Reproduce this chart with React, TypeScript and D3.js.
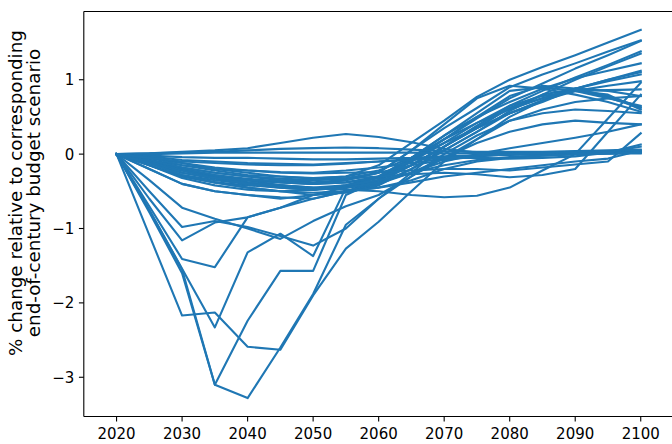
import React, { useEffect, useRef } from "react";
import * as d3 from "d3";

const years = [2020, 2025, 2030, 2035, 2040, 2045, 2050, 2055, 2060, 2065, 2070, 2075, 2080, 2085, 2090, 2095, 2100];
const xTicks = [2020, 2030, 2040, 2050, 2060, 2070, 2080, 2090, 2100];
const yTicks = [-3, -2, -1, 0, 1];
const yLabelLines = ["% change relative to corresponding", "end-of-century budget scenario"];

// deep early dips
const s01 = [0, -1.09, -2.17, -2.13, -2.59, -2.63, -1.9, -1.27, -0.91, -0.5, -0.1, 0.2, 0.45, 0.55, 0.6, 0.58, 0.55];
const s02 = [0, -0.78, -1.6, -3.1, -3.28, -2.6, -1.88, -0.95, -0.6, -0.25, 0.1, 0.35, 0.55, 0.72, 0.88, 1.0, 1.12];
const s03 = [0, -0.75, -1.55, -3.1, -2.24, -1.57, -1.57, -0.55, -0.35, -0.05, 0.25, 0.5, 0.7, 0.88, 1.02, 1.12, 1.22];
const s04 = [0, -0.75, -1.54, -2.33, -1.32, -1.07, -1.37, -0.45, -0.3, -0.05, 0.2, 0.42, 0.6, 0.75, 0.88, 0.98, 1.07];
// moderate early dips
const s05 = [0, -0.5, -0.98, -0.9, -0.98, -1.1, -1.23, -1.0, -0.6, -0.3, 0.0, 0.25, 0.45, 0.6, 0.7, 0.75, 0.78];
const s06 = [0, -0.6, -1.16, -0.92, -0.85, -0.72, -0.55, -0.45, -0.35, -0.15, 0.1, 0.35, 0.62, 0.8, 0.88, 0.78, 0.63];
const s07 = [0, -0.7, -1.41, -1.52, -0.85, -0.72, -0.6, -0.5, -0.4, -0.2, 0.05, 0.3, 0.55, 0.72, 0.85, 0.8, 0.6];
const s08 = [0, -0.35, -0.72, -0.87, -1.0, -1.14, -0.9, -0.7, -0.55, -0.3, -0.05, 0.15, 0.3, 0.4, 0.45, 0.42, 0.4];
// mid-band then rising
const s09 = [0, -0.2, -0.4, -0.5, -0.55, -0.58, -0.6, -0.5, -0.35, -0.1, 0.2, 0.5, 0.78, 0.92, 0.88, 0.76, 0.62];
const s10 = [0, -0.15, -0.3, -0.38, -0.42, -0.45, -0.48, -0.42, -0.3, -0.05, 0.25, 0.55, 0.85, 0.9, 0.85, 0.75, 0.65];
const s11 = [0, -0.1, -0.22, -0.3, -0.35, -0.38, -0.4, -0.35, -0.25, 0.05, 0.4, 0.75, 0.92, 0.88, 0.8, 0.7, 0.57];
const s12 = [0, -0.05, -0.12, -0.2, -0.25, -0.3, -0.33, -0.3, -0.15, 0.15, 0.45, 0.77, 1.0, 1.17, 1.33, 1.5, 1.67];
const s13 = [0, -0.08, -0.18, -0.25, -0.3, -0.35, -0.38, -0.35, -0.25, 0.05, 0.35, 0.62, 0.9, 1.07, 1.22, 1.38, 1.53];
const s14 = [0, -0.12, -0.25, -0.33, -0.38, -0.42, -0.45, -0.42, -0.32, -0.08, 0.2, 0.48, 0.75, 0.95, 1.15, 1.33, 1.52];
const s15 = [0, -0.1, -0.2, -0.28, -0.35, -0.42, -0.48, -0.45, -0.38, -0.15, 0.1, 0.38, 0.65, 0.85, 1.03, 1.2, 1.38];
const s16 = [0, -0.15, -0.3, -0.38, -0.45, -0.5, -0.55, -0.52, -0.42, -0.2, 0.05, 0.3, 0.58, 0.8, 1.0, 1.18, 1.35];
const s17 = [0, -0.08, -0.2, -0.3, -0.38, -0.42, -0.46, -0.45, -0.4, -0.25, -0.05, 0.2, 0.5, 0.72, 0.88, 1.0, 1.1];
const s18 = [0, -0.1, -0.22, -0.3, -0.35, -0.38, -0.4, -0.38, -0.32, -0.15, 0.1, 0.38, 0.62, 0.75, 0.85, 0.92, 0.98];
const s19 = [0, -0.12, -0.28, -0.35, -0.4, -0.42, -0.45, -0.48, -0.5, -0.55, -0.58, -0.56, -0.45, -0.22, 0.0, 0.48, 0.96];
const s20 = [0, -0.1, -0.2, -0.28, -0.33, -0.37, -0.4, -0.38, -0.3, -0.1, 0.15, 0.42, 0.65, 0.78, 0.85, 0.86, 0.87];
const s21 = [0, -0.08, -0.15, -0.22, -0.28, -0.3, -0.32, -0.3, -0.22, -0.05, 0.15, 0.35, 0.55, 0.7, 0.88, 0.85, 0.78];
const s22 = [0, -0.1, -0.22, -0.32, -0.4, -0.45, -0.48, -0.45, -0.38, -0.25, -0.1, 0.0, 0.08, 0.15, 0.22, 0.3, 0.4];
const s23 = [0, -0.05, -0.12, -0.18, -0.22, -0.25, -0.26, -0.25, -0.24, -0.22, -0.2, -0.2, -0.22, -0.18, -0.14, -0.1, 0.28];
const s24 = [0, -0.08, -0.18, -0.25, -0.3, -0.33, -0.35, -0.33, -0.3, -0.27, -0.25, -0.27, -0.31, -0.28, -0.2, 0.3, 0.8];
// near-zero runs
const s25 = [0, 0.01, 0.03, 0.05, 0.08, 0.15, 0.22, 0.27, 0.23, 0.16, 0.07, 0.02, 0, -0.01, 0, 0.01, 0.02];
const s26 = [0, 0.01, 0.02, 0.03, 0.05, 0.07, 0.08, 0.09, 0.08, 0.06, 0.04, 0.03, 0.03, 0.03, 0.04, 0.05, 0.06];
const s27 = [0, 0.0, 0.01, 0.02, 0.02, 0.02, 0.02, 0.02, 0.02, 0.02, 0.01, 0.01, 0.01, 0.01, 0.01, 0.01, 0.01];
const s28 = [0, -0.02, -0.04, -0.05, -0.05, -0.06, -0.07, -0.07, -0.06, -0.05, -0.03, -0.02, -0.01, 0, 0.01, 0.02, 0.03];
const s29 = [0, -0.03, -0.08, -0.1, -0.12, -0.13, -0.14, -0.12, -0.1, -0.07, -0.04, -0.02, 0, 0.01, 0.02, 0.03, 0.04];
const s30 = [0, -0.05, -0.15, -0.2, -0.22, -0.24, -0.25, -0.22, -0.18, -0.12, -0.06, -0.02, 0, 0.02, 0.03, 0.04, 0.05];
const s31 = [0, -0.1, -0.25, -0.32, -0.35, -0.36, -0.35, -0.32, -0.25, -0.15, -0.08, -0.03, 0, 0.01, 0.02, 0.03, 0.1];
const s32 = [0, -0.15, -0.32, -0.42, -0.48, -0.5, -0.48, -0.42, -0.35, -0.25, -0.15, -0.08, -0.04, -0.02, 0, 0.01, 0.02];
const s33 = [0, -0.2, -0.4, -0.5, -0.55, -0.6, -0.55, -0.5, -0.45, -0.35, -0.2, -0.1, -0.05, -0.02, 0, 0.01, 0.02];
const s34 = [0, -0.05, -0.1, -0.12, -0.14, -0.15, -0.15, -0.13, -0.1, -0.08, -0.05, -0.05, -0.06, -0.05, -0.03, 0.02, 0.13];
const s35 = [0, -0.12, -0.28, -0.38, -0.45, -0.5, -0.52, -0.5, -0.45, -0.38, -0.3, -0.25, -0.2, -0.15, -0.1, -0.06, 0.05];

const runs = [s01, s02, s03, s04, s05, s06, s07, s08, s09, s10, s11, s12, s13, s14, s15, s16, s17, s18, s19, s20, s21, s22, s23, s24, s25, s26, s27, s28, s29, s30, s31, s32, s33, s34, s35];

const W = 672;
const H = 444;
const FONT = "DejaVu Sans, sans-serif";

export default function App() {
  const ref = useRef<SVGSVGElement>(null);

  useEffect(() => {
    const svg = d3.select(ref.current);
    svg.selectAll("*").remove();

    const x = d3
      .scaleLinear()
      .domain([d3.min(years)! - 5, d3.max(years)! + 5])
      .range([83.8, 673.5]);

    const allVals = runs.flat();
    const lo = d3.min(allVals)!;
    const hi = d3.max(allVals)!;
    const pad = (hi - lo) * 0.05;
    const y = d3.scaleLinear().domain([lo - pad, hi + pad]).range([416.5, 11.5]);

    const line = d3
      .line<number>()
      .x((_, i) => x(years[i]))
      .y((v) => y(v));

    const g = svg.append("g");
    g.selectAll("path.run")
      .data(runs)
      .join("path")
      .attr("class", "run")
      .attr("d", (d) => line(d))
      .attr("fill", "none")
      .attr("stroke", "#1f77b4")
      .attr("stroke-width", 2.1)
      .attr("stroke-linejoin", "round")
      .attr("stroke-linecap", "square");

    // spines
    const [x0, x1] = x.range();
    const [yb, yt] = y.range();
    const sp = svg.append("g").attr("stroke", "#000").attr("stroke-width", 1.1).attr("fill", "none");
    sp.append("line").attr("x1", x0).attr("x2", x0).attr("y1", yt).attr("y2", yb);
    sp.append("line").attr("x1", x0).attr("x2", x1).attr("y1", yb).attr("y2", yb);
    sp.append("line").attr("x1", x0).attr("x2", x1).attr("y1", yt).attr("y2", yt);
    sp.append("line").attr("x1", x1).attr("x2", x1).attr("y1", yt).attr("y2", yb);

    // x ticks
    const xt = svg.append("g");
    xTicks.forEach((t) => {
      xt.append("line")
        .attr("x1", x(t))
        .attr("x2", x(t))
        .attr("y1", yb)
        .attr("y2", yb + 4.9)
        .attr("stroke", "#000")
        .attr("stroke-width", 1.1);
      xt.append("text")
        .attr("x", x(t))
        .attr("y", yb + 22)
        .attr("text-anchor", "middle")
        .attr("font-family", FONT)
        .attr("font-size", 15)
        .attr("fill", "#000")
        .text(String(t));
    });

    // y ticks
    const yt2 = svg.append("g");
    yTicks.forEach((t) => {
      yt2.append("line")
        .attr("x1", x0 - 4.9)
        .attr("x2", x0)
        .attr("y1", y(t))
        .attr("y2", y(t))
        .attr("stroke", "#000")
        .attr("stroke-width", 1.1);
      yt2.append("text")
        .attr("x", x0 - 9.5)
        .attr("y", y(t))
        .attr("dy", "0.36em")
        .attr("text-anchor", "end")
        .attr("font-family", FONT)
        .attr("font-size", 15)
        .attr("fill", "#000")
        .text(d3.format("d")(t).replace("-", "\u2212"));
    });

    // y label
    const cy = 193;
    yLabelLines.forEach((s, i) => {
      svg
        .append("text")
        .attr("transform", `translate(${21.5 + i * 18.5},${cy}) rotate(-90)`)
        .attr("text-anchor", "middle")
        .attr("font-family", FONT)
        .attr("font-size", 18.3)
        .attr("fill", "#000")
        .text(s);
    });
  }, []);

  return (
    <div style={{ position: "fixed", left: 0, top: 0, width: W, height: H, background: "#fff" }}>
      <svg ref={ref} width={W} height={H} style={{ display: "block" }} />
    </div>
  );
}
